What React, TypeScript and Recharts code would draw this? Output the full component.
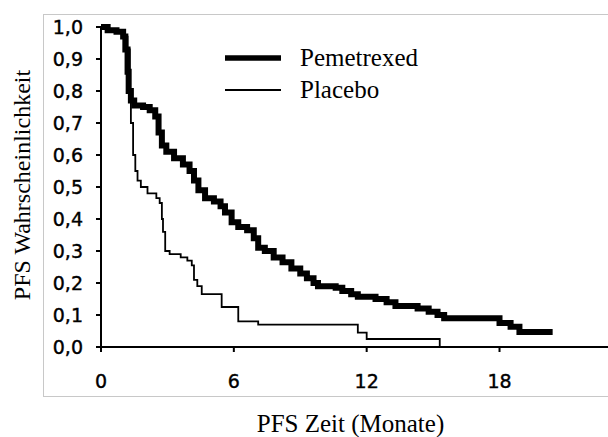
import React from "react";
import { LineChart, Line, XAxis, YAxis } from "recharts";

// Kaplan-Meier PFS
const pemTime = [0, 0.3, 0.7, 1.0, 1.1, 1.2, 1.25, 1.35, 1.5, 1.9, 2.2, 2.45, 2.6, 2.75, 2.95, 3.3, 3.7, 4.0, 4.2, 4.4, 4.7, 5.1, 5.4, 5.6, 5.9, 6.2, 6.6, 6.9, 7.1, 7.4, 7.8, 8.2, 8.6, 9.0, 9.3, 9.6, 9.8, 10.6, 10.9, 11.3, 11.6, 12.4, 12.9, 13.3, 14.3, 14.8, 15.2, 15.5, 18.0, 18.5, 18.9, 20.4];
const pemSurv = [1.0, 0.99, 0.985, 0.97, 0.93, 0.86, 0.8, 0.77, 0.755, 0.75, 0.74, 0.72, 0.67, 0.63, 0.61, 0.59, 0.57, 0.55, 0.52, 0.49, 0.465, 0.455, 0.44, 0.42, 0.39, 0.375, 0.365, 0.34, 0.31, 0.3, 0.28, 0.265, 0.245, 0.23, 0.215, 0.2, 0.19, 0.185, 0.175, 0.165, 0.157, 0.15, 0.14, 0.128, 0.12, 0.11, 0.1, 0.09, 0.075, 0.063, 0.047, 0.047];

const plaTime = [0, 0.3, 0.7, 1.0, 1.2, 1.3, 1.35, 1.45, 1.55, 1.65, 1.8, 2.1, 2.5, 2.65, 2.75, 2.8, 2.9, 3.1, 3.6, 3.9, 4.1, 4.2, 4.35, 4.55, 5.45, 6.2, 7.1, 11.6, 12.0, 15.3];
const plaSurv = [1.0, 0.99, 0.985, 0.97, 0.93, 0.8, 0.7, 0.6, 0.55, 0.52, 0.5, 0.48, 0.465, 0.45, 0.4, 0.36, 0.3, 0.29, 0.28, 0.27, 0.255, 0.21, 0.19, 0.165, 0.125, 0.08, 0.07, 0.045, 0.025, 0.0];

const xTicks = [0, 6, 12, 18];
const yTicks = [0, 0.1, 0.2, 0.3, 0.4, 0.5, 0.6, 0.7, 0.8, 0.9, 1.0];

const seriesNames = ["Pemetrexed", "Placebo"];

const pemData = pemTime.map((t, i) => ({ t, s: pemSurv[i] }));
const plaData = plaTime.map((t, i) => ({ t, s: plaSurv[i] }));

const tickFont = { fontFamily: "DejaVu Sans", fontSize: 19, fill: "#000", stroke: "#000", strokeWidth: 0.4 };
const serif = "'Liberation Serif', 'Times New Roman', serif";

function LegendBox() {
  const widths = [5.5, 1.8];
  return (
    <div style={{ position: "absolute", left: 225, top: 42, fontFamily: serif, fontSize: 25, color: "#000" }}>
      {seriesNames.map((n, i) => (
        <div key={n} style={{ display: "flex", alignItems: "center", height: 32 }}>
          <svg width={56} height={32} style={{ marginRight: 19 }}>
            <line x1={0} x2={56} y1={16} y2={16} stroke="#000" strokeWidth={widths[i]} />
          </svg>
          <span style={{ lineHeight: "32px" }}>{n}</span>
        </div>
      ))}
    </div>
  );
}

export default function App() {
  return (
    <div style={{ position: "absolute", left: 0, top: 0, width: 608, height: 437, background: "#fff", overflow: "hidden" }}>
      <div
        style={{
          position: "absolute",
          left: 43,
          top: 14,
          width: 600,
          height: 381,
          border: "1px solid #c8c8c8",
        }}
      />
      <LineChart width={608} height={437} margin={{ top: 27, right: 0, bottom: 0, left: 0 }} style={{ position: "absolute", left: 0, top: 0 }}>
        <XAxis
          type="number"
          dataKey="t"
          domain={[0, 22.9]}
          ticks={xTicks}
          interval={0}
          allowDataOverflow
          height={90}
          stroke="#000"
          strokeWidth={2}
          tickSize={5}
          tickMargin={23}
          tick={tickFont}
          label={(props: any) => {
            const vb = props.viewBox;
            return (
              <text x={vb.x + vb.width / 2 - 4} y={423} textAnchor="middle" dominantBaseline="central" fontFamily={serif} fontSize={25} fill="#000">
                PFS Zeit (Monate)
              </text>
            );
          }}
        />
        <YAxis
          type="number"
          domain={[0, 1]}
          ticks={yTicks}
          interval={0}
          width={101}
          stroke="#000"
          strokeWidth={2}
          tickSize={5}
          tickMargin={13}
          tick={tickFont}
          tickFormatter={(v: number) => v.toFixed(1).replace(".", ",")}
          label={(props: any) => {
            const vb = props.viewBox;
            const cy = vb.y + vb.height / 2 - 2;
            return (
              <text x={22} y={cy} transform={`rotate(-90 22 ${cy})`} textAnchor="middle" dominantBaseline="central" fontFamily={serif} fontSize={24} fill="#000">
                PFS Wahrscheinlichkeit
              </text>
            );
          }}
        />
        <Line
          name="Placebo"
          data={plaData}
          dataKey="s"
          type="stepAfter"
          stroke="#000"
          strokeWidth={1.8}
          dot={false}
          isAnimationActive={false}
        />
        <Line
          name="Pemetrexed"
          data={pemData}
          dataKey="s"
          type="stepAfter"
          stroke="#000"
          strokeWidth={6}
          dot={false}
          isAnimationActive={false}
        />
      </LineChart>
      <LegendBox />
    </div>
  );
}
